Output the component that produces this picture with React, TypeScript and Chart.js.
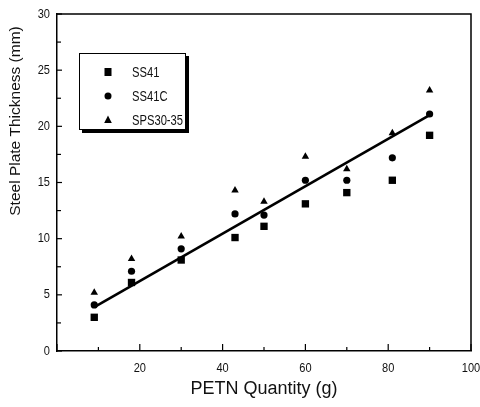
import React, { useEffect, useRef } from "react";
import { Chart, registerables } from "chart.js";

Chart.register(...registerables);

const petn = [9, 18, 30, 43, 50, 60, 70, 81, 90];
const ss41 = [3.0, 6.1, 8.1, 10.1, 11.1, 13.1, 14.1, 15.2, 19.2];
const ss41c = [4.1, 7.1, 9.1, 12.2, 12.1, 15.2, 15.2, 17.2, 21.1];
const sps3035 = [5.2, 8.2, 10.2, 14.3, 13.3, 17.3, 16.2, 19.4, 23.2];
const fitX = [9, 90];
const fitY = [3.9, 21.0];
const seriesNames = ["SS41", "SS41C", "SPS30-35"];
const xTitle = "PETN Quantity (g)";
const yTitle = "Steel Plate Thickness (mm)";

const SANS = "'Liberation Sans', Arial, sans-serif";

function drawMarker(ctx: CanvasRenderingContext2D, style: string, x: number, y: number) {
  ctx.fillStyle = "#000";
  ctx.beginPath();
  if (style === "rect") {
    ctx.fillRect(x - 3.5, y - 4, 7, 8);
    return;
  } else if (style === "circle") {
    ctx.arc(x, y, 3.5, 0, Math.PI * 2);
  } else {
    ctx.moveTo(x, y - 4.5);
    ctx.lineTo(x + 3.8, y + 3);
    ctx.lineTo(x - 3.8, y + 3);
    ctx.closePath();
  }
  ctx.fill();
}

function condensedText(ctx: CanvasRenderingContext2D, text: string, x: number, y: number, sx: number) {
  ctx.save();
  ctx.translate(x, y);
  ctx.scale(sx, 1);
  ctx.fillText(text, 0, 0);
  ctx.restore();
}

const decorPlugin = {
  id: "decor",
  afterDraw(chart: any) {
    const ctx: CanvasRenderingContext2D = chart.ctx;
    const { left, right, top, bottom } = chart.chartArea;
    ctx.save();
    ctx.strokeStyle = "#000";
    ctx.lineWidth = 1.5;
    // frame top and right
    ctx.beginPath();
    ctx.moveTo(left, top);
    ctx.lineTo(right, top);
    ctx.lineTo(right, bottom);
    ctx.stroke();
    // inward ticks
    ctx.lineWidth = 1.2;
    const xs = chart.scales.x;
    xs.ticks.forEach((t: any) => {
      const px = xs.getPixelForValue(t.value);
      const major = t.value % 20 === 0;
      ctx.beginPath();
      ctx.moveTo(px, bottom);
      ctx.lineTo(px, bottom - (major ? 7 : 4));
      ctx.stroke();
    });
    const ys = chart.scales.y;
    ys.ticks.forEach((t: any) => {
      const py = ys.getPixelForValue(t.value);
      const major = t.value % 5 === 0;
      ctx.beginPath();
      ctx.moveTo(left, py);
      ctx.lineTo(left + (major ? 5 : 4), py);
      ctx.stroke();
    });
    // tick labels (condensed)
    ctx.fillStyle = "#111";
    ctx.font = `13px ${SANS}`;
    ctx.textBaseline = "middle";
    ctx.textAlign = "center";
    xs.ticks.forEach((t: any) => {
      if (t.value % 20 !== 0 || t.value === 0) return;
      condensedText(ctx, String(t.value), xs.getPixelForValue(t.value), bottom + 17, 0.85);
    });
    ctx.textAlign = "right";
    ys.ticks.forEach((t: any) => {
      if (t.value % 5 !== 0) return;
      condensedText(ctx, String(t.value), left - 7, ys.getPixelForValue(t.value), 0.85);
    });
    // y title
    ctx.save();
    ctx.translate(16, 121);
    ctx.rotate(-Math.PI / 2);
    ctx.font = `15.5px ${SANS}`;
    ctx.fillStyle = "#111";
    ctx.textAlign = "center";
    ctx.textBaseline = "middle";
    ctx.fillText(yTitle, 0, 0);
    ctx.restore();
    // legend box with shadow
    const bx = 79, by = 53, bw = 107, bh = 77;
    ctx.fillStyle = "#000";
    ctx.fillRect(bx + 3, by + 3, bw, bh);
    ctx.fillStyle = "#fff";
    ctx.fillRect(bx, by, bw, bh);
    ctx.lineWidth = 1;
    ctx.strokeRect(bx + 0.5, by + 0.5, bw - 1, bh - 1);
    const styles = ["rect", "circle", "triangle"];
    const rows = [72, 96, 120];
    ctx.font = `14px ${SANS}`;
    ctx.textAlign = "left";
    ctx.textBaseline = "middle";
    seriesNames.forEach((name, i) => {
      drawMarker(ctx, styles[i], 108, rows[i]);
      ctx.fillStyle = "#111";
      condensedText(ctx, name, 132, rows[i] + 1, 0.8);
    });
    ctx.restore();
  },
};

export default function App() {
  const ref = useRef<HTMLCanvasElement | null>(null);
  useEffect(() => {
    document.body.style.margin = "0";
    const toPts = (ys: number[]) => petn.map((x, i) => ({ x, y: ys[i] }));
    const chart = new Chart(ref.current as HTMLCanvasElement, {
      type: "scatter",
      data: {
        datasets: [
          {
            type: "line",
            label: "fit",
            data: fitX.map((x, i) => ({ x, y: fitY[i] })),
            borderColor: "#000",
            borderWidth: 2.6,
            pointRadius: 0,
            showLine: true,
            fill: false,
          } as any,
          {
            label: seriesNames[0],
            data: toPts(ss41),
            pointStyle: "rect",
            pointRadius: 5.2,
            backgroundColor: "#000",
            borderColor: "#000",
            borderWidth: 0,
          },
          {
            label: seriesNames[1],
            data: toPts(ss41c),
            pointStyle: "circle",
            pointRadius: 3.6,
            backgroundColor: "#000",
            borderColor: "#000",
            borderWidth: 0,
          },
          {
            label: seriesNames[2],
            data: toPts(sps3035),
            pointStyle: "triangle",
            pointRadius: 4.3,
            backgroundColor: "#000",
            borderColor: "#000",
            borderWidth: 0,
          },
        ],
      },
      options: {
        responsive: false,
        animation: false,
        layout: { padding: { top: 14, right: 9, left: 0, bottom: 0 } },
        plugins: {
          legend: { display: false },
          tooltip: { enabled: false },
        },
        scales: {
          x: {
            type: "linear",
            min: 0,
            max: 100,
            grid: { display: false, drawTicks: false },
            border: { display: true, color: "#000", width: 1.5 },
            ticks: {
              stepSize: 10,
              autoSkip: false,
              display: false,
            },
            title: {
              display: true,
              text: xTitle,
              color: "#111",
              font: { family: SANS, size: 18 },
              padding: { top: 4, bottom: 7 },
            },
            afterFit: (s: any) => {
              s.height = 56;
            },
          },
          y: {
            type: "linear",
            min: 0,
            max: 30,
            grid: { display: false, drawTicks: false },
            border: { display: true, color: "#000", width: 1.5 },
            ticks: {
              stepSize: 2.5,
              autoSkip: false,
              display: false,
            },
            afterFit: (s: any) => {
              s.width = 57;
            },
          },
        },
      },
      plugins: [decorPlugin],
    });
    return () => chart.destroy();
  }, []);
  return (
    <div style={{ position: "fixed", left: 0, top: 0, width: 480, height: 407, background: "#fff" }}>
      <canvas ref={ref} width={480} height={407} />
    </div>
  );
}
